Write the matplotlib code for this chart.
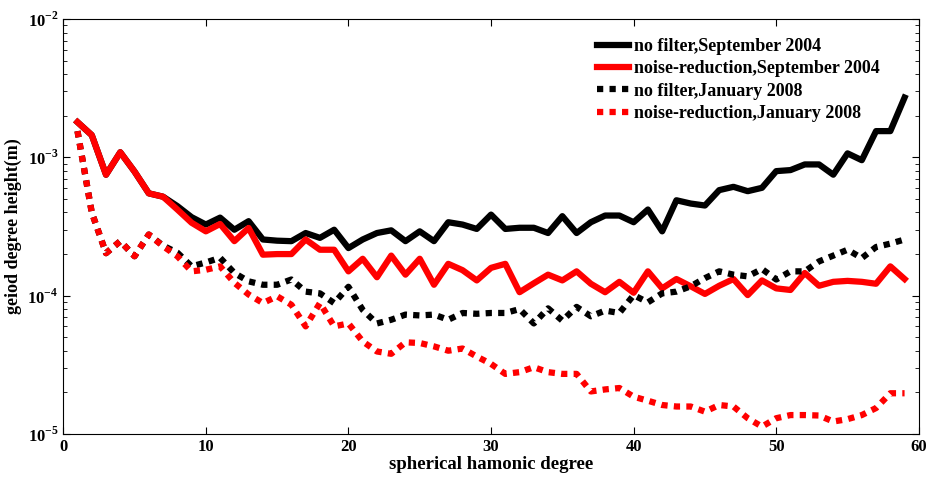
import matplotlib
matplotlib.use('Agg')
import matplotlib.pyplot as plt
import numpy as np
from matplotlib.ticker import FixedLocator, FuncFormatter, LogLocator

plt.rcParams['font.family'] = 'Liberation Serif'
plt.rcParams['font.weight'] = 'bold'
plt.rcParams['mathtext.fontset'] = 'custom'
plt.rcParams['mathtext.rm'] = 'Liberation Serif:bold'
plt.rcParams['mathtext.bf'] = 'Liberation Serif:bold'

degrees = np.arange(1, 60)

# no filter, September 2004
nofilter_sep2004 = [
    1.8e-3, 1.45e-3, 7.5e-4, 1.09e-3, 7.9e-4, 5.5e-4, 5.2e-4, 4.45e-4, 3.7e-4, 3.27e-4,
    3.67e-4, 3.0e-4, 3.46e-4, 2.55e-4, 2.5e-4, 2.48e-4, 2.84e-4, 2.62e-4, 3.0e-4, 2.21e-4,
    2.55e-4, 2.84e-4, 2.97e-4, 2.48e-4, 2.92e-4, 2.48e-4, 3.4e-4, 3.27e-4, 3.04e-4, 3.86e-4,
    3.04e-4, 3.1e-4, 3.1e-4, 2.84e-4, 3.76e-4, 2.84e-4, 3.4e-4, 3.8e-4, 3.8e-4, 3.4e-4,
    4.2e-4, 2.92e-4, 4.9e-4, 4.64e-4, 4.49e-4, 5.8e-4, 6.13e-4, 5.7e-4, 6.03e-4, 7.96e-4,
    8.1e-4, 8.9e-4, 8.9e-4, 7.5e-4, 1.07e-3, 9.55e-4, 1.55e-3, 1.55e-3, 2.71e-3]

# noise-reduction, September 2004
noisered_sep2004 = [
    1.8e-3, 1.45e-3, 7.5e-4, 1.09e-3, 7.9e-4, 5.5e-4, 5.2e-4, 4.2e-4, 3.37e-4, 2.92e-4,
    3.3e-4, 2.48e-4, 3.09e-4, 1.98e-4, 2.0e-4, 2.0e-4, 2.55e-4, 2.15e-4, 2.15e-4, 1.5e-4,
    1.85e-4, 1.36e-4, 1.95e-4, 1.42e-4, 1.85e-4, 1.2e-4, 1.7e-4, 1.53e-4, 1.29e-4, 1.59e-4,
    1.7e-4, 1.06e-4, 1.23e-4, 1.42e-4, 1.29e-4, 1.5e-4, 1.22e-4, 1.06e-4, 1.26e-4, 1.05e-4,
    1.5e-4, 1.13e-4, 1.32e-4, 1.17e-4, 1.03e-4, 1.18e-4, 1.32e-4, 1.01e-4, 1.29e-4, 1.13e-4,
    1.1e-4, 1.46e-4, 1.18e-4, 1.26e-4, 1.28e-4, 1.26e-4, 1.22e-4, 1.63e-4, 1.32e-4]

# no filter, January 2008
nofilter_jan2008 = [
    1.55e-3, 4.0e-4, 2.03e-4, 2.48e-4, 1.93e-4, 2.77e-4, 2.3e-4, 2.05e-4, 1.63e-4, 1.74e-4,
    1.88e-4, 1.46e-4, 1.27e-4, 1.2e-4, 1.2e-4, 1.31e-4, 1.07e-4, 1.04e-4, 8.85e-5, 1.16e-4,
    7.9e-5, 6.3e-5, 6.7e-5, 7.3e-5, 7.2e-5, 7.3e-5, 6.7e-5, 7.5e-5, 7.4e-5, 7.5e-5,
    7.5e-5, 8.0e-5, 6.3e-5, 8.1e-5, 6.6e-5, 8.3e-5, 7.1e-5, 7.8e-5, 7.5e-5, 1.01e-4,
    8.95e-5, 1.04e-4, 1.07e-4, 1.17e-4, 1.34e-4, 1.5e-4, 1.42e-4, 1.38e-4, 1.56e-4, 1.31e-4,
    1.5e-4, 1.5e-4, 1.77e-4, 1.95e-4, 2.15e-4, 1.87e-4, 2.25e-4, 2.38e-4, 2.55e-4]

# noise-reduction, January 2008
noisered_jan2008 = [
    1.55e-3, 4.0e-4, 2.03e-4, 2.48e-4, 1.93e-4, 2.77e-4, 2.28e-4, 1.93e-4, 1.5e-4, 1.54e-4,
    1.63e-4, 1.24e-4, 1.02e-4, 8.85e-5, 9.9e-5, 8.6e-5, 6.0e-5, 8.85e-5, 6.0e-5, 6.3e-5,
    4.67e-5, 3.95e-5, 3.8e-5, 4.6e-5, 4.55e-5, 4.3e-5, 4.0e-5, 4.15e-5, 3.63e-5, 3.21e-5,
    2.72e-5, 2.8e-5, 3.04e-5, 2.8e-5, 2.72e-5, 2.72e-5, 2.03e-5, 2.1e-5, 2.15e-5, 1.86e-5,
    1.74e-5, 1.62e-5, 1.58e-5, 1.58e-5, 1.45e-5, 1.62e-5, 1.58e-5, 1.3e-5, 1.13e-5, 1.3e-5,
    1.37e-5, 1.37e-5, 1.36e-5, 1.23e-5, 1.28e-5, 1.37e-5, 1.54e-5, 1.97e-5, 1.97e-5]

labels = ['no filter,September 2004', 'noise-reduction,September 2004',
          'no filter,January 2008', 'noise-reduction,January 2008']

fig = plt.figure(figsize=(9.3, 4.79), dpi=100)
ax = fig.add_axes([0.068, 0.094, 0.920, 0.866])

dots = (0, (1, 1))
ax.plot(degrees, nofilter_sep2004, color='black', lw=4.5, label=labels[0])
ax.plot(degrees, noisered_sep2004, color='red', lw=4.5, label=labels[1])
ax.plot(degrees, nofilter_jan2008, color='black', lw=4.5, linestyle=dots,
        dash_capstyle='butt', label=labels[2])
ax.plot(degrees, noisered_jan2008, color='red', lw=4.5, linestyle=dots,
        dash_capstyle='butt', label=labels[3])

ax.set_yscale('log')
ax.set_xlim(0, 60)
ax.set_ylim(1e-5, 1e-2)
ax.xaxis.set_major_locator(FixedLocator([0, 10, 20, 30, 40, 50, 60]))
ax.yaxis.set_major_locator(LogLocator(base=10, numticks=10))
ax.yaxis.set_minor_locator(LogLocator(base=10, subs=np.arange(2, 10), numticks=20))
ax.yaxis.set_major_formatter(FuncFormatter(lambda v, p: r'$10^{%d}$' % round(np.log10(v))))
ax.tick_params(which='both', direction='in', top=True, right=True, labelsize=12)
ax.tick_params(which='major', length=5, width=0.8)
ax.tick_params(which='minor', length=3, width=0.6)
for lab in ax.get_xticklabels():
    lab.set_fontweight('bold')

ax.set_xlabel('spherical hamonic degree', fontsize=13.5, fontweight='bold', labelpad=1)
ax.set_ylabel('geiod degree height(m)', fontsize=13, fontweight='bold', labelpad=4)

leg = ax.legend(loc='upper left', bbox_to_anchor=(0.624, 0.955), frameon=False,
                fontsize=13, handlelength=1.75, handletextpad=0.3, labelspacing=0.3,
                borderpad=0, borderaxespad=0)
for t in leg.get_texts():
    t.set_fontweight('bold')

fig.savefig('out.png', dpi=100)
